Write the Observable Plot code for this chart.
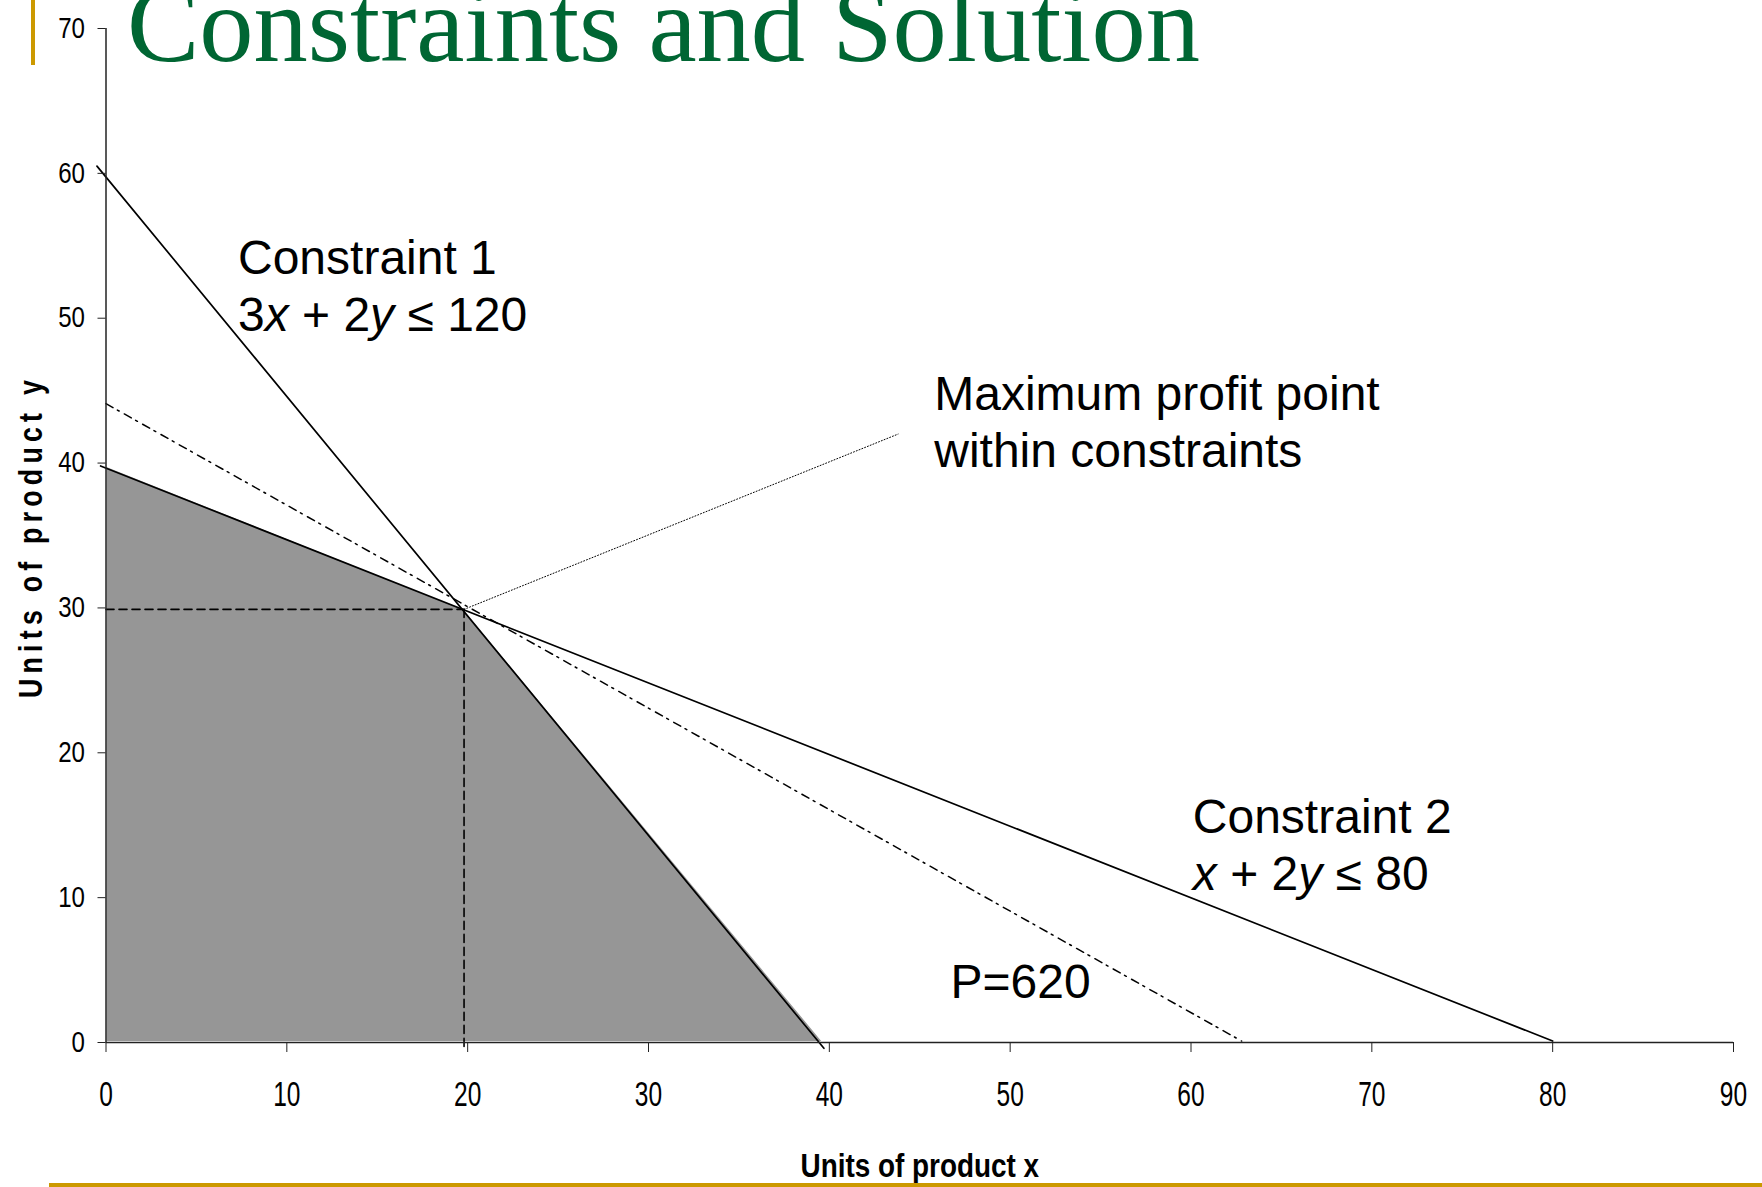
<!DOCTYPE html>
<html><head><meta charset="utf-8">
<script src="https://cdn.jsdelivr.net/npm/d3@7"></script>
<script src="https://cdn.jsdelivr.net/npm/@observablehq/plot@0.6"></script>
<style>html,body{margin:0;padding:0;background:#fff;} #chart{width:1762px;height:1187px;overflow:hidden;}</style>
</head><body><div id="chart"></div>
<script>
const titleText = "Constraints and Solution";
const xLabel = "Units of product x";
const yLabel = "Units of product y";
const xTicks = [0, 10, 20, 30, 40, 50, 60, 70, 80, 90];
const yTicks = [0, 10, 20, 30, 40, 50, 60, 70];
// feasible region (upper boundary; lower boundary is y = 0)
const feasibleX = [0, 19.8, 39.7];
const feasibleY = [39.8, 29.9, 0];
// constraint lines and iso-profit line (end points)
const constraint1X = [-0.5, 39.7];
const constraint1Y = [60.5, -0.4];
const constraint2X = [-0.3, 80.0];
const constraint2Y = [39.8, 0.1];
const profitX = [0, 62.8];
const profitY = [44.1, 0.1];
// optimum point and leader line to its label
const optimumX = [19.8];
const optimumY = [29.9];
const leaderX = [19.8, 43.8];
const leaderY = [29.9, 42.0];
// annotation labels
const labelTexts = ["Constraint 1\n3x + 2y ≤ 120", "Maximum profit point\nwithin constraints", "Constraint 2\nx + 2y ≤ 80", "P=620"];
const labelX = [7.3, 45.8, 60.1, 46.7];
const labelY = [49.1, 39.7, 10.5, 3.1];

const SANS = "'Liberation Sans', Arial, sans-serif";

const pts = (xs, ys) => xs.map((x, i) => ({x, y: ys[i]}));
const feasible = pts(feasibleX, feasibleY);
const hGuide = [{x: 0, y: optimumY[0]}, {x: optimumX[0], y: optimumY[0]}];
const vGuide = [{x: optimumX[0], y: optimumY[0]}, {x: optimumX[0], y: -0.4}];
const labels = labelTexts.map((t, i) => ({t, x: labelX[i], y: labelY[i]}));

const chart = Plot.plot({
  width: 1762,
  height: 1187,
  marginLeft: 105.5,
  marginRight: 29,
  marginTop: 28,
  marginBottom: 145,
  style: {fontFamily: SANS, background: "white", color: "black", overflow: "visible"},
  x: {domain: [0, 90]},
  y: {domain: [0, 70]},
  marks: [
    Plot.areaY(feasible, {x: "x", y: "y", fill: "#969696", stroke: "white", strokeWidth: 2}),
    Plot.line(hGuide, {x: "x", y: "y", stroke: "black", strokeWidth: 1.6, strokeDasharray: "8,5"}),
    Plot.line(vGuide, {x: "x", y: "y", stroke: "black", strokeWidth: 1.6, strokeDasharray: "8,5"}),
    Plot.line(pts(constraint1X, constraint1Y), {x: "x", y: "y", stroke: "black", strokeWidth: 1.7}),
    Plot.line(pts(constraint2X, constraint2Y), {x: "x", y: "y", stroke: "black", strokeWidth: 1.7}),
    Plot.line(pts(profitX, profitY), {x: "x", y: "y", stroke: "black", strokeWidth: 1.5, strokeDasharray: "8,5,2,6"}),
    Plot.line(pts(leaderX, leaderY), {x: "x", y: "y", stroke: "black", strokeWidth: 1, strokeDasharray: "1,2"}),
    Plot.ruleY([0], {stroke: "#222", strokeWidth: 1.5}),
    Plot.ruleX([0], {stroke: "#222", strokeWidth: 1.5}),
    Plot.axisX({ticks: xTicks, tickSize: 10, tickPadding: 29, fontSize: 35, label: null, stroke: "#222"}),
    Plot.axisY({ticks: yTicks, tickSize: 8, tickPadding: 13, fontSize: 29, label: null, stroke: "#222"}),
    Plot.text(labels, {x: "x", y: "y", text: "t", textAnchor: "start", lineAnchor: "bottom", fontSize: 48, lineHeight: 1.19, fill: "black"}),
    Plot.text([xLabel], {frameAnchor: "bottom", dy: 134.7, lineAnchor: "bottom", textAnchor: "middle", fontSize: 34, fontWeight: "bold", fill: "black"}),
    Plot.text([yLabel], {frameAnchor: "left", rotate: -90, dx: -63.8, dy: 1, lineAnchor: "bottom", textAnchor: "middle", fontSize: 32.6, fontWeight: "bold", fill: "black"})
  ]
});
document.getElementById("chart").appendChild(chart);

const svg = d3.select(chart);

// horizontally condense a text element (narrow type of the original) without moving its anchor
function squeeze(el, sx) {
  const w = el.getComputedTextLength();
  if (w > 0) {
    el.setAttribute("textLength", (w * sx).toFixed(2));
    el.setAttribute("lengthAdjust", "spacingAndGlyphs");
  }
}
svg.selectAll('g[aria-label="x-axis tick label"] text').each(function() { squeeze(this, 0.7); });
svg.selectAll('g[aria-label="y-axis tick label"] text').each(function() { squeeze(this, 0.83); });
svg.selectAll("text").filter(function() { return this.textContent === xLabel; })
  .each(function() { squeeze(this, 0.82); });
svg.selectAll("text").filter(function() { return this.textContent === yLabel; })
  .attr("letter-spacing", 6.4)
  .each(function() { squeeze(this, 0.82); });

// italic variables in the constraint formulas
svg.selectAll("text, tspan").filter(function() {
  return this.children.length === 0 && /≤/.test(this.textContent);
}).each(function() {
  const parts = this.textContent.split(/([xy])/).filter(s => s.length);
  const el = d3.select(this);
  el.text("");
  parts.forEach(p => {
    const ts = el.append("tspan").text(p);
    if (p === "x" || p === "y") ts.attr("font-style", "italic");
  });
});

// slide decoration: title and gold rules
svg.append("text").attr("x", 127).attr("y", 61)
  .attr("text-anchor", "start")
  .attr("font-family", "'Liberation Serif', 'Times New Roman', serif")
  .attr("font-size", 108.5).attr("fill", "#006633").text(titleText);
svg.append("rect").attr("x", 31).attr("y", 0).attr("width", 4).attr("height", 65).attr("fill", "#cc9900");
svg.append("rect").attr("x", 49).attr("y", 1183).attr("width", 1713).attr("height", 4).attr("fill", "#cc9900");
</script>
</body></html>
